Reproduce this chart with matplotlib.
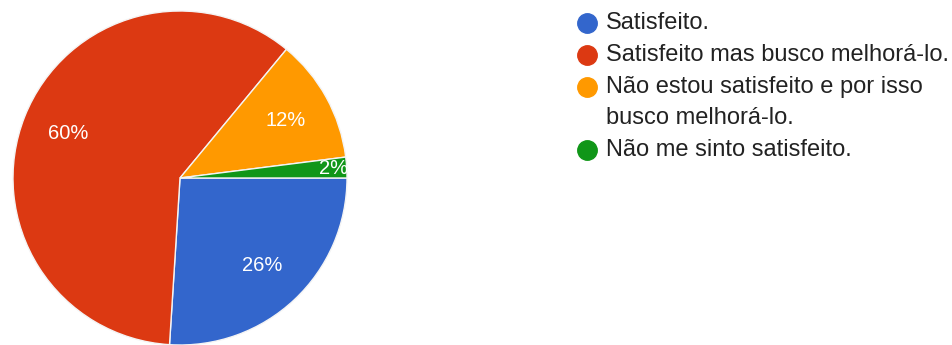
import matplotlib
matplotlib.use("Agg")
import matplotlib.pyplot as plt
import numpy as np
from matplotlib.lines import Line2D

plt.rcParams['font.family'] = ['Liberation Sans', 'DejaVu Sans']

# respostas da pesquisa de satisfação
categorias = ['Satisfeito.',
              'Satisfeito mas busco melhorá-lo.',
              'Não estou satisfeito e por isso\nbusco melhorá-lo.',
              'Não me sinto satisfeito.']
percentuais = [26, 60, 12, 2]
cores = ['#3366CC', '#DC3912', '#FF9900', '#109618']

W, H = 952, 345
fig = plt.figure(figsize=(W / 100, H / 100), dpi=100)

# pizza: centro (180, 178) px, raio 167 px
cx, cy, r = 180, 178, 167
ax = fig.add_axes([(cx - r) / W, (H - cy - r) / H, 2 * r / W, 2 * r / H])
wedges, textos, autotextos = ax.pie(
    percentuais, colors=cores, startangle=0, counterclock=False,
    autopct='%d%%', pctdistance=0.72,
    wedgeprops=dict(edgecolor='#f4f4f4', linewidth=1),
    textprops=dict(color='white', fontsize=14.5))
ax.set_xlim(-1, 1)
ax.set_ylim(-1, 1)
ax.set_aspect('equal')

# fatias pequenas: rótulo mais perto da borda
for w, t, v in zip(wedges, autotextos, percentuais):
    if v < 5:
        ang = np.deg2rad((w.theta1 + w.theta2) / 2)
        t.set_position((0.92 * np.cos(ang), 0.92 * np.sin(ang)))

# legenda desenhada à mão, linha por linha
y0, passo = 23, 31.8
x_marca, x_texto = 587, 606
linha = 0
for nome, cor in zip(categorias, cores):
    y = y0 + linha * passo
    fig.add_artist(Line2D([x_marca / W], [1 - y / H], marker='o', markersize=14,
                          color=cor, linestyle='none', transform=fig.transFigure))
    for parte in nome.split('\n'):
        yl = y0 + linha * passo
        fig.text(x_texto / W, 1 - yl / H, parte, fontsize=17, color='#222222',
                 va='center', ha='left')
        linha += 1

fig.savefig('out.png', dpi=100, facecolor='white')
